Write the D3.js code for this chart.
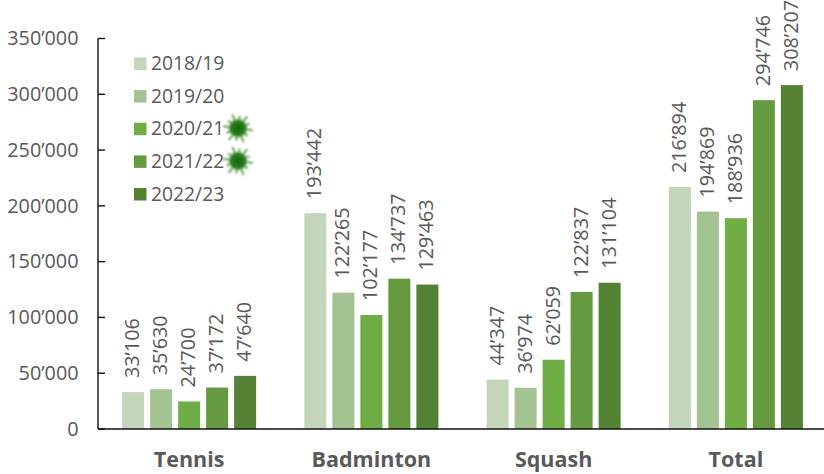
<!DOCTYPE html>
<html>
<head>
<meta charset="utf-8">
<script src="https://cdn.jsdelivr.net/npm/d3@7"></script>
<style>
  html, body { margin: 0; padding: 0; background: #fff; }
  svg { display: block; }
  text { font-family: "Open Sans", sans-serif; fill: #595959; }
</style>
</head>
<body>
<div id="chart"></div>
<script>
// Values
const sports = ["Tennis", "Badminton", "Squash", "Total"];
const seasons = ["2018/19", "2019/20", "2020/21", "2021/22", "2022/23"];
const season1 = [33106, 193442, 44347, 216894];
const season2 = [35630, 122265, 36974, 194869];
const season3 = [24700, 102177, 62059, 188936];
const season4 = [37172, 134737, 122837, 294746];
const season5 = [47640, 129463, 131104, 308207];
const seriesValues = [season1, season2, season3, season4, season5];
const yTicks = [0, 50000, 100000, 150000, 200000, 250000, 300000, 350000];
const colors = ["#c3d6b9", "#a3c492", "#70ad47", "#659a40", "#548235"];
// seasons marked with the virus icon in the legend
const covidSeasons = ["2020/21", "2021/22"];

const width = 824, height = 474;
const margin = { top: 38.5, right: -3, bottom: 45, left: 98 };

const svg = d3.select("#chart").append("svg")
    .attr("width", width)
    .attr("height", height);

// Swiss style thousands separator
const fmt = v => d3.format(",")(v).replace(/,/g, "\u2019");

const x = d3.scaleBand()
    .domain(sports)
    .range([margin.left, width - margin.right]);

const xInner = d3.scaleBand()
    .domain(seasons)
    .range([0, 134])
    .paddingInner(0.214)
    .paddingOuter(0);

const y = d3.scaleLinear()
    .domain([0, 350000])
    .range([height - margin.bottom, margin.top]);

// Bars
const groups = svg.append("g")
    .selectAll("g")
    .data(sports)
    .join("g")
    .attr("transform", d => `translate(${x(d) + (x.bandwidth() - 134) / 2},0)`);

seasons.forEach(function (season, s) {
    groups.append("rect")
        .attr("x", xInner(season))
        .attr("y", (d, i) => y(seriesValues[s][i]))
        .attr("width", xInner.bandwidth())
        .attr("height", (d, i) => y(0) - y(seriesValues[s][i]))
        .attr("fill", colors[s]);

    // Rotated value labels
    groups.append("text")
        .attr("transform", (d, i) =>
            `translate(${xInner(season) + xInner.bandwidth() / 2 + 6},${y(seriesValues[s][i]) - 14}) rotate(-90)`)
        .style("font-size", "19.8px")
        .text((d, i) => fmt(seriesValues[s][i]));
});

// Y axis
const yAxis = svg.append("g")
    .attr("transform", `translate(${margin.left},0)`)
    .call(d3.axisLeft(y).tickValues(yTicks).tickFormat(fmt).tickSize(0).tickPadding(19.5));
yAxis.selectAll(".domain").remove();
yAxis.selectAll("text").style("font-size", "19.8px");

svg.append("g")
    .selectAll("line")
    .data(yTicks)
    .join("line")
    .attr("x1", margin.left)
    .attr("x2", margin.left + 7)
    .attr("y1", d => y(d))
    .attr("y2", d => y(d))
    .attr("stroke", "#111")
    .attr("stroke-width", 1.4);

svg.append("line")
    .attr("x1", margin.left)
    .attr("x2", margin.left)
    .attr("y1", y(350000))
    .attr("y2", y(0))
    .attr("stroke", "#111")
    .attr("stroke-width", 1.4);

svg.append("line")
    .attr("x1", margin.left)
    .attr("x2", width)
    .attr("y1", y(0))
    .attr("y2", y(0))
    .attr("stroke", "#111")
    .attr("stroke-width", 1.4);

// X labels
svg.append("g")
    .selectAll("text")
    .data(sports)
    .join("text")
    .attr("x", d => x(d) + x.bandwidth() / 2)
    .attr("y", 466.5)
    .attr("text-anchor", "middle")
    .style("font-size", "21.5px")
    .style("font-weight", "700")
    .text(d => d);

// Legend
const legendY = d3.scalePoint()
    .domain(seasons)
    .range([63.5, 194]);

const legend = svg.append("g")
    .selectAll("g")
    .data(seasons)
    .join("g")
    .attr("transform", d => `translate(134,${legendY(d)})`);

legend.append("rect")
    .attr("y", -6)
    .attr("width", 12.5)
    .attr("height", 12.5)
    .attr("fill", (d, i) => colors[i]);

legend.append("text")
    .attr("x", 17)
    .attr("y", 6.5)
    .style("font-size", "19.3px")
    .text(d => d);

// Virus icon
const defs = svg.append("defs");
const grad = defs.append("radialGradient").attr("id", "virus");
grad.append("stop").attr("offset", "0%").attr("stop-color", "#17650c");
grad.append("stop").attr("offset", "70%").attr("stop-color", "#267a18");
grad.append("stop").attr("offset", "100%").attr("stop-color", "#4f9442");
defs.append("filter").attr("id", "soft")
    .append("feGaussianBlur").attr("stdDeviation", 0.8);

const icons = svg.append("g")
    .selectAll("g")
    .data(covidSeasons)
    .join("g")
    .attr("transform", d => `translate(238,${legendY(d) - 0.5})`)
    .attr("filter", "url(#soft)");

const spikes = d3.range(12).map(i => i * 30 + 8);
icons.selectAll("line")
    .data(spikes)
    .join("line")
    .attr("x1", 0)
    .attr("y1", 0)
    .attr("x2", (d, i) => Math.cos(d * Math.PI / 180) * (i % 2 ? 12.5 : 15))
    .attr("y2", (d, i) => Math.sin(d * Math.PI / 180) * (i % 2 ? 12.5 : 15))
    .attr("stroke", "#5f9f52")
    .attr("stroke-width", 2);

icons.append("circle")
    .attr("r", 9)
    .attr("fill", "url(#virus)");
</script>
</body>
</html>
